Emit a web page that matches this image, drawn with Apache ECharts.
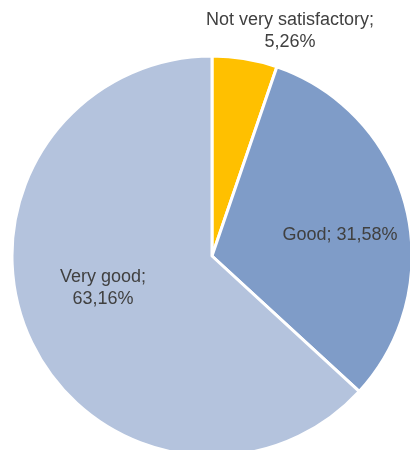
<!DOCTYPE html>
<html>
<head>
<meta charset="utf-8">
<script src="https://cdn.jsdelivr.net/npm/echarts@6/dist/echarts.min.js"></script>
<style>
  html, body { margin: 0; padding: 0; background: #fff; }
  #chart { width: 410px; height: 450px; }
</style>
</head>
<body>
<div id="chart"></div>
<script>
// Data
const categories = ['Not very satisfactory', 'Good', 'Very good'];
const values = [5.26, 31.58, 63.16];
const colors = ['#FFC000', '#7F9CC8', '#B4C3DD'];
// label anchor points (centre of each label block)
const labelSpots = [[290, 31], [340, 235], [103, 288]];

const chart = echarts.init(document.getElementById('chart'));

const option = {
    animation: false,
    series: [{
        type: 'pie',
        center: [212, 256],
        radius: [0, 200],
        startAngle: 90,
        clockwise: true,
        avoidLabelOverlap: false,
        itemStyle: { borderColor: '#fff', borderWidth: 3 },
        label: {
            show: true,
            position: 'inside',
            fontFamily: 'Liberation Sans, Arial, sans-serif',
            fontSize: 18,
            lineHeight: 22,
            color: '#404040',
            align: 'center',
            formatter: function (p) {
                const v = p.value.toFixed(2).replace('.', ',') + '%';
                return p.dataIndex === 1 ? p.name + '; ' + v : p.name + ';\n' + v;
            }
        },
        labelLine: { show: false },
        labelLayout: function (p) {
            const s = labelSpots[p.dataIndex];
            return { x: s[0], y: s[1], align: 'center', verticalAlign: 'middle' };
        },
        data: categories.map((c, i) => ({
            name: c,
            value: values[i],
            itemStyle: { color: colors[i] }
        }))
    }]
};

chart.setOption(option);
</script>
</body>
</html>
